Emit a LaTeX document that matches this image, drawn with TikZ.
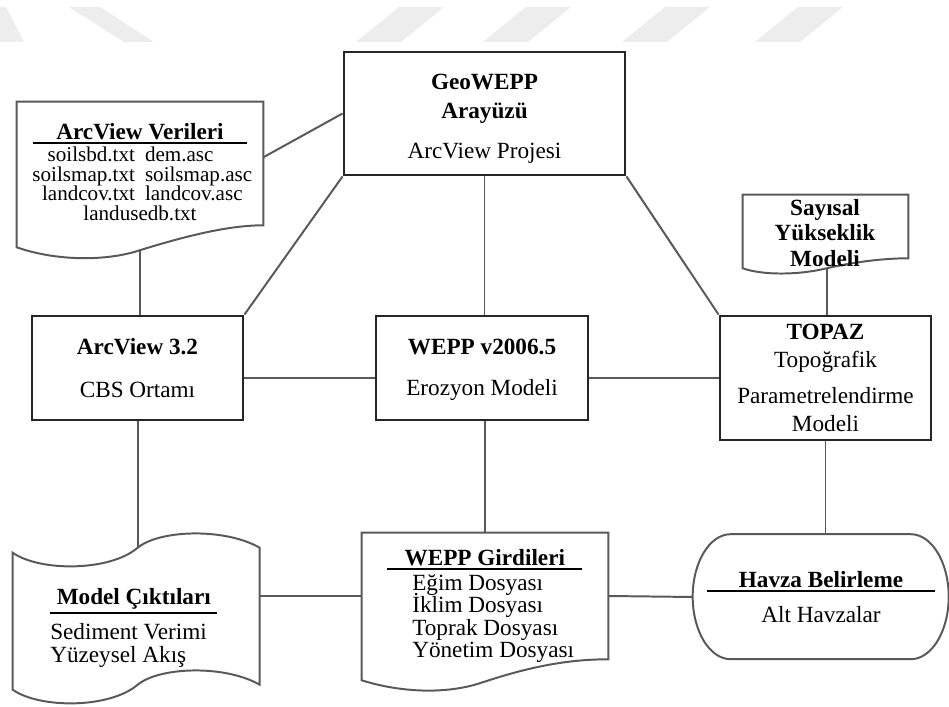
\documentclass[tikz,border=0pt]{standalone}
\usepackage{fontspec}
\setmainfont{Liberation Serif}
\usetikzlibrary{positioning,calc}
\newcommand\setfs[2]{\fontsize{#1}{#2}\selectfont\lineskiplimit=-100pt\relax}
\newcommand\ulhead[2]{\vtop{\hbox to #1{\hfil\textbf{#2}\hfil}\kern1.8pt\hrule height 1.4pt}}
\tikzset{
    every node/.style={font=\setfs{16.5}{21}},
    box/.style={draw=black!85, line width=2pt, align=center, inner sep=0pt}, % the plain boxes
    docbody/.style={inner sep=0pt}, % body of a document shape, outline drawn apart
    docline/.style={draw=black!65, line width=1.4pt},
    link/.style={draw=black!65, line width=1.4pt},
    txt/.style={inner sep=0pt},
    wmark/.style={fill=black!7, draw=none},
}

\begin{document}
\begin{tikzpicture}[x=0.025cm, y=-0.025cm]
    \useasboundingbox (0,0) rectangle (949,707);
    \fill[white] (0,0) rectangle (949,707);

    % light band on top
    \fill[wmark] (0,7) -- (6,7) -- (24,42) -- (0,42) -- cycle;
    \fill[wmark] (69,7) -- (100,7) -- (154,42) -- (124,42) -- cycle;
    \foreach \t in {399,526,665,798}
        \fill[wmark] (\t,7) -- ++(45,0) -- ++(-43,35) -- ++(-45,0) -- cycle;

    % boxes
    \node[box, minimum width=7.025cm, minimum height=3.075cm] (geo) at (484.5,113.5)
        {\rule{0pt}{18pt}\textbf{GeoWEPP}\\\textbf{Arayüzü}\\[7pt]ArcView Projesi};
    \node[box, minimum width=5.275cm, minimum height=2.6cm] (arcv) at (137.5,368)
        {\textbf{ArcView 3.2}\\[9.5pt]CBS Ortamı};
    \node[box, minimum width=5.3cm, minimum height=2.6cm] (wepp) at (482,368)
        {\rule{0pt}{14pt}\textbf{WEPP v2006.5}\\[8pt]Erozyon Modeli};
    \node[box, minimum width=5.275cm, minimum height=3.1cm] (topaz) at (825.5,378)
        {\textbf{TOPAZ}\\[-1pt]Topoğrafik\\[5pt]Parametrelendirme\\[-1pt]Modeli};

    % document shapes
    \node[docbody, minimum width=6.15cm, minimum height=3.075cm] (ver) at (140,163.5) {};
    \node[docbody, minimum width=4.125cm, minimum height=1.575cm] (dem) at (825.5,226.5) {};
    \node[docbody, minimum width=6.15cm, minimum height=3.15cm] (gir) at (485,596) {};
    \node[docbody, minimum width=6.175cm, minimum height=3.475cm] (mod) at (136.5,617.5) {};
    \node[docbody, minimum width=6.4cm, minimum height=3.125cm, font=\setfs{16.5}{25}, align=center] (havza) at (821,597)
        {\ulhead{5.675cm}{Havza Belirleme}\\Alt Havzalar};

    \draw[docline, shift={(ver.south west)}] (ver.south east) -- (ver.north east) -- (ver.north west) -- (0,22)
        .. controls (40,36) and (90,36) .. (123,25) coordinate (verbot)
        .. controls (165,12) and (210,0) .. cycle;
    \draw[docline, shift={(dem.south west)}] (dem.south east) -- (dem.north east) -- (dem.north west) -- (0,10)
        .. controls (20,17) and (55,17) .. (84,10) coordinate (dembot)
        .. controls (110,4) and (140,0) .. cycle;
    \draw[docline, shift={(gir.south west)}] (gir.south east) -- (gir.north east) -- (gir.north west) -- (0,21)
        .. controls (35,32) and (80,36) .. (118,24)
        .. controls (160,10) and (200,0) .. cycle;
    \draw[docline, shift={(mod.north west)}] (0,5)
        .. controls (27,24) and (97,24) .. (125,0) coordinate (modtop)
        .. controls (147,-18) and (212,-20) .. (247,0) -- (247,137)
        .. controls (212,117) and (147,119) .. (125,137)
        .. controls (97,161) and (27,161) .. (0,142) -- cycle;
    \draw[docline, shift={(havza.north west)}] (38,0) -- (218,0)
        .. controls (239,0) and (256,28) .. (256,62.5)
        .. controls (256,97) and (239,125) .. (218,125) -- (38,125)
        .. controls (17,125) and (0,97) .. (0,62.5)
        .. controls (0,28) and (17,0) .. cycle;

    % texts of the documents
    \node[txt, font=\setfs{15}{14}, align=center] (vertxt) at (140,172)
        {\ulhead{5.35cm}{\fontsize{16.5}{14}\selectfont ArcView Verileri}\\[2pt]%
        \makebox[2.9cm][r]{soilsbd.txt}\hspace{0.25cm}\makebox[2.9cm][l]{dem.asc}\\%
        \makebox[2.9cm][r]{soilsmap.txt}\hspace{0.25cm}\makebox[2.9cm][l]{soilsmap.asc}\\%
        \makebox[2.9cm][r]{landcov.txt}\hspace{0.25cm}\makebox[2.9cm][l]{landcov.asc}\\%
        landusedb.txt};
    \node[txt, font=\setfs{16.5}{18}\bfseries, align=center] (demtxt) at (825,233)
        {Sayısal\\Yükseklik\\Modeli};
    \node[txt, font=\setfs{16.5}{16}, align=left, anchor=west] (girtxt) at (387,606)
        {\ulhead{4.875cm}{WEPP Girdileri}\\[2pt]%
        \hspace*{0.625cm}Eğim Dosyası\\%
        \hspace*{0.625cm}İklim Dosyası\\%
        \hspace*{0.625cm}Toprak Dosyası\\%
        \hspace*{0.625cm}Yönetim Dosyası};
    \node[txt, font=\setfs{16.5}{15.8}, align=left, anchor=west] (modtxt) at (50,628)
        {\ulhead{4.175cm}{Model Çıktıları}\\[9pt]Sediment Verimi\\Yüzeysel Akış};

    % connections
    \draw[link] ($(ver.north east)!0.45!(ver.south east)$) -- (geo.west);
    \draw[link] (verbot) -- (verbot |- arcv.north);
    \draw[link] (geo.south west) -- (arcv.north east);
    \draw[link] (geo.south) -- (geo.south |- wepp.north);
    \draw[link] (geo.south east) -- (topaz.north west);
    \draw[link] (dembot) -- (dembot |- topaz.north);
    \draw[link] (arcv.east |- topaz) -- (wepp.west |- topaz);
    \draw[link] (wepp.east |- topaz) -- (topaz.west);
    \draw[link] (modtop |- arcv.south) -- (modtop);
    \draw[link] (gir.north |- wepp.south) -- (gir.north);
    \draw[link] (topaz.south) -- (topaz.south |- havza.north);
    \draw[link] (mod.east |- gir.west) -- (gir.west);
    \draw[link] (gir.east) -- (havza.west);
\end{tikzpicture}
\end{document}
